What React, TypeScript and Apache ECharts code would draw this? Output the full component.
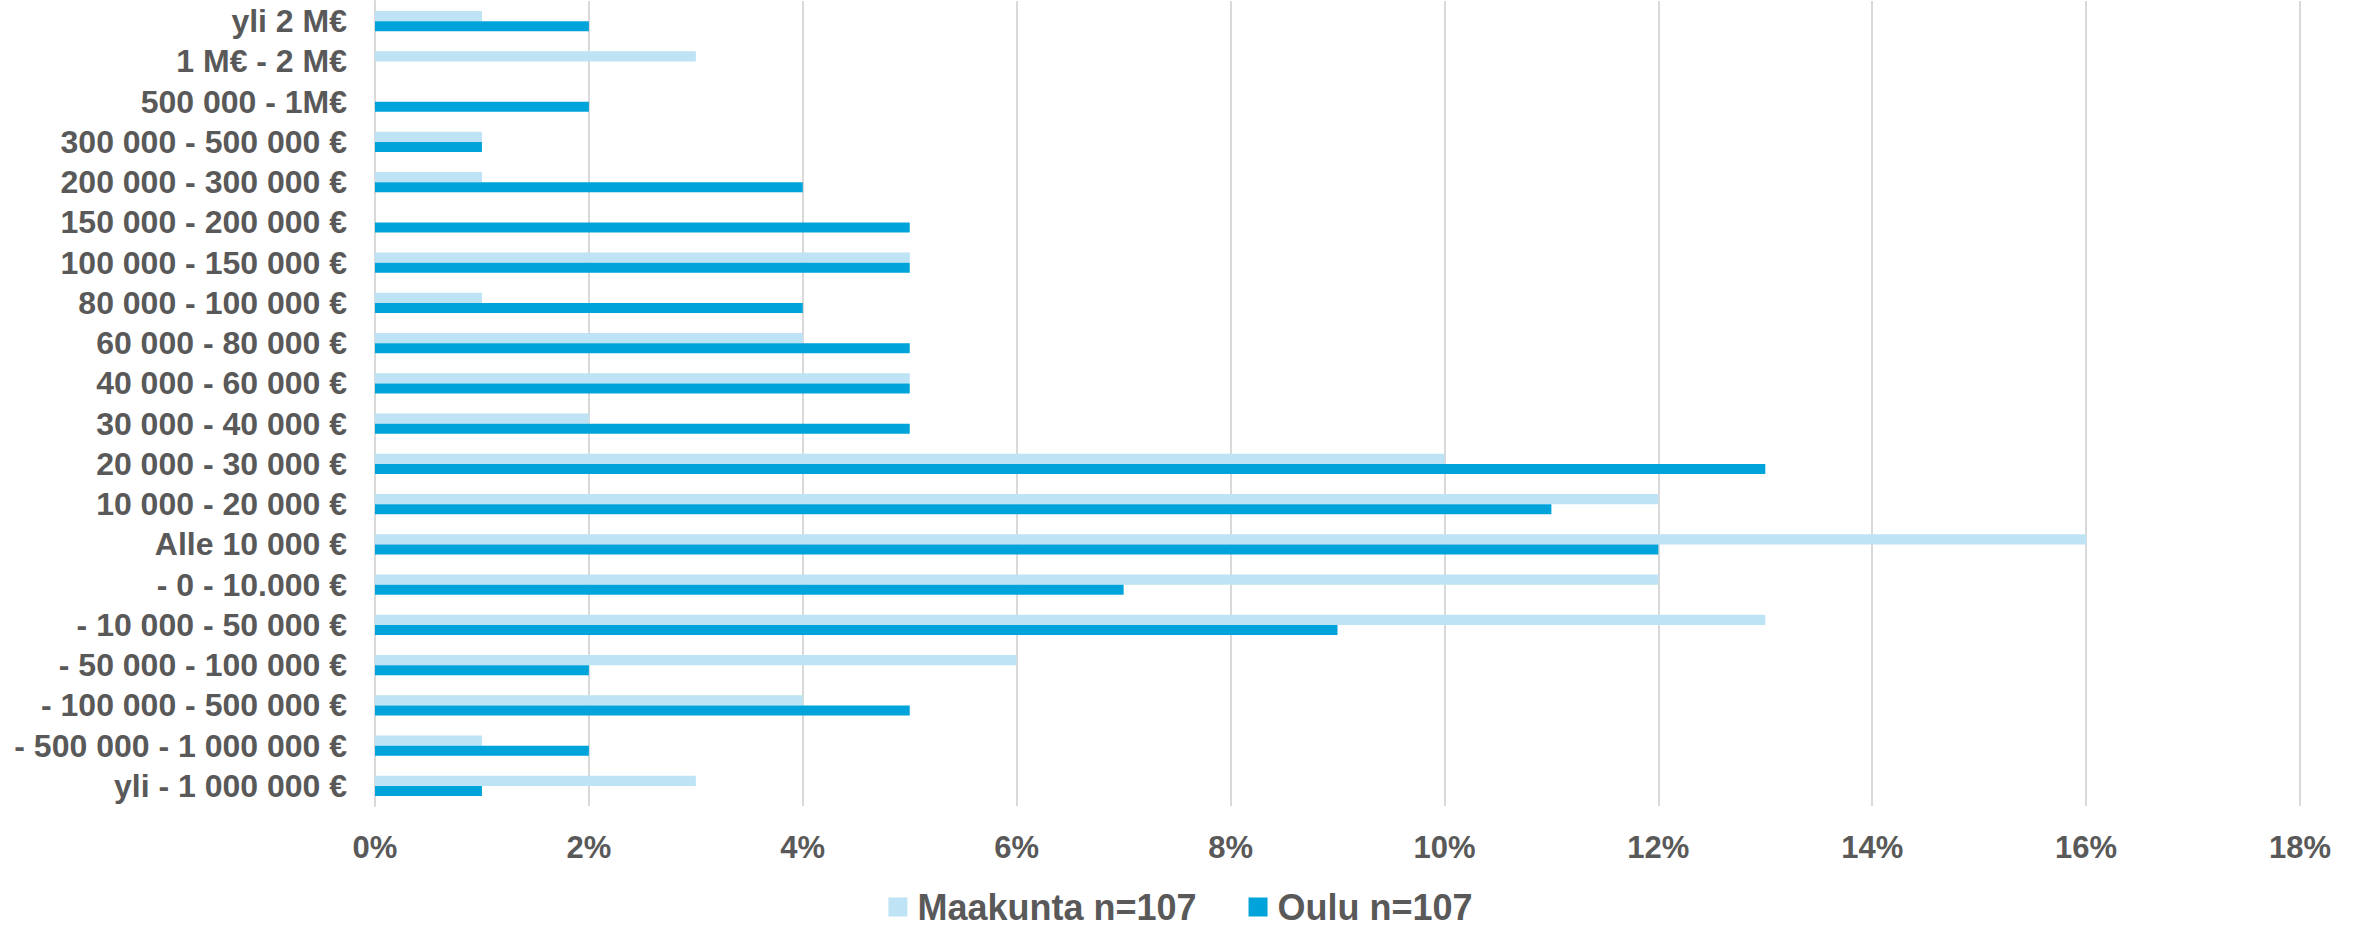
import React, { useEffect, useRef } from "react";
import * as echarts from "echarts";

const categories = [
  "yli 2 M€",
  "1 M€ - 2 M€",
  "500 000 - 1M€",
  "300 000 - 500 000 €",
  "200 000 - 300 000 €",
  "150 000 - 200 000 €",
  "100 000 - 150 000 €",
  "80 000 - 100 000 €",
  "60 000 - 80 000 €",
  "40 000 - 60 000 €",
  "30 000 - 40 000 €",
  "20 000 - 30 000 €",
  "10 000 - 20 000 €",
  "Alle 10 000 €",
  "- 0 - 10.000 €",
  "- 10 000 - 50 000 €",
  "- 50 000 - 100 000 €",
  "- 100 000 - 500 000 €",
  "- 500 000 - 1 000 000 €",
  "yli - 1 000 000 €",
];

const maakunta = [1, 3, 0, 1, 1, 0, 5, 1, 4, 5, 2, 10, 12, 16, 12, 13, 6, 4, 1, 3];
const oulu = [2, 0, 2, 1, 4, 5, 5, 4, 5, 5, 5, 13, 11, 12, 7, 9, 2, 5, 2, 1];

const xTicksMax = 18;
const xTickStep = 2;

const seriesNames = ["Maakunta n=107", "Oulu n=107"];
const colors = ["#BDE3F5", "#00A3DA"];
const textColor = "#595959";
const fontFamily = "'Liberation Sans', Arial, sans-serif";

export default function App() {
  const ref = useRef<HTMLDivElement>(null);
  useEffect(() => {
    document.body.style.margin = "0";
    const chart = echarts.init(ref.current!, null, { renderer: "svg" });
    chart.setOption({
      animation: false,
      backgroundColor: "#ffffff",
      grid: { left: 375, right: 61, top: 1, bottom: 121, containLabel: false },
      legend: {
        data: seriesNames,
        left: "center",
        top: 883,
        itemWidth: 19,
        itemHeight: 19,
        itemGap: 52,
        icon: "rect",
        textStyle: {
          fontSize: 36,
          lineHeight: 38,
          fontWeight: "bold",
          color: textColor,
          fontFamily,
          padding: [0, 0, 0, 5],
        },
      },
      xAxis: {
        type: "value",
        min: 0,
        max: xTicksMax,
        interval: xTickStep,
        axisLine: { show: false },
        axisTick: { show: false },
        splitLine: { show: true, lineStyle: { color: "#D9D9D9", width: 2 } },
        axisLabel: {
          formatter: "{value}%",
          fontSize: 31,
          fontWeight: "bold",
          color: textColor,
          fontFamily,
          margin: 26,
        },
      },
      yAxis: {
        type: "category",
        data: categories,
        inverse: true,
        axisLine: { show: true, lineStyle: { color: "#D9D9D9", width: 2 } },
        axisTick: { show: false },
        axisLabel: {
          interval: 0,
          hideOverlap: false,
          fontSize: 32,
          fontWeight: "bold",
          color: textColor,
          fontFamily,
          margin: 28,
        },
      },
      series: [
        {
          name: seriesNames[0],
          type: "bar",
          data: maakunta,
          itemStyle: { color: colors[0] },
          barGap: "0%",
          barCategoryGap: "50%",
        },
        {
          name: seriesNames[1],
          type: "bar",
          data: oulu,
          itemStyle: { color: colors[1] },
          barGap: "0%",
          barCategoryGap: "50%",
        },
      ],
    });
    return () => chart.dispose();
  }, []);
  return <div ref={ref} style={{ width: 2361, height: 927 }} />;
}
